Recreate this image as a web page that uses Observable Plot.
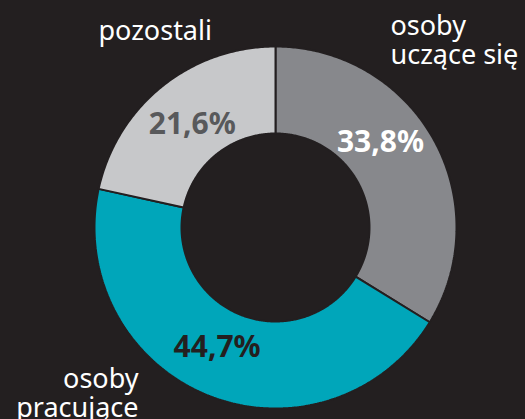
<!DOCTYPE html>
<html>
<head>
<meta charset="utf-8">
<script src="https://cdn.jsdelivr.net/npm/d3@7"></script>
<script src="https://cdn.jsdelivr.net/npm/@observablehq/plot@0.6"></script>
<style>
  html, body { margin: 0; padding: 0; background: #231f20; overflow: hidden; }
  #chart { width: 525px; height: 419px; }
</style>
</head>
<body>
<div id="chart"></div>
<script>
// ---- data ----
const categories = ["osoby uczące się", "osoby pracujące", "pozostali"];
const values = [33.8, 44.7, 21.6];
const valueLabels = ["33,8%", "44,7%", "21,6%"];

// ---- styles / layout ----
const sliceColors = ["#87888c", "#00a6ba", "#c7c8ca"];
const valueColors = ["#ffffff", "#231f20", "#58595b"];
const valueOffsets = [[-15, -18], [-7, -8], [3, 4]]; // px nudges
const W = 525, H = 419, CX = 275, CY = 227, R = 181, R_IN = 94;
const catLayout = [
  {lines: ["osoby", "uczące się"], x: 390, y: 14, anchor: "start"},
  {lines: ["osoby", "pracujące"], x: 138, y: 367, anchor: "end"},
  {lines: ["pozostali"], x: 98, y: 19, anchor: "start"}
];

const inner = R_IN / R;
const pie = d3.pie().sort(null).startAngle(0).endAngle(2 * Math.PI)(values);

// polygons for donut slices
const poly = [];
pie.forEach((p, i) => {
  const n = Math.max(8, Math.ceil((p.endAngle - p.startAngle) / 0.01));
  const pts = [];
  for (let k = 0; k <= n; k++) {
    const a = p.startAngle + (p.endAngle - p.startAngle) * k / n;
    pts.push([Math.sin(a), Math.cos(a)]);
  }
  for (let k = n; k >= 0; k--) {
    const a = p.startAngle + (p.endAngle - p.startAngle) * k / n;
    pts.push([inner * Math.sin(a), inner * Math.cos(a)]);
  }
  pts.push(pts[0]);
  pts.forEach(([x, y]) => poly.push({key: categories[i], x, y}));
});

const mid = (1 + inner) / 2;
const valueText = pie.map((p, i) => {
  const a = (p.startAngle + p.endAngle) / 2;
  return {
    label: valueLabels[i],
    x: mid * Math.sin(a) + valueOffsets[i][0] / R,
    y: mid * Math.cos(a) - valueOffsets[i][1] / R,
    color: valueColors[i]
  };
});

const catText = catLayout.map((c) => ({
  label: c.lines.join("\n"),
  x: (c.x - CX) / R,
  y: (CY - c.y) / R,
  anchor: c.anchor
}));

const catStyle = {
  fill: "#ffffff", lineAnchor: "top", lineHeight: 1.08,
  fontSize: 27, fontFamily: "Noto Sans", letterSpacing: "0.3px"
};

const chart = Plot.plot({
  width: W,
  height: H,
  margin: 0,
  style: {background: "#231f20", overflow: "hidden"},
  x: {domain: [-CX / R, (W - CX) / R], range: [0, W], axis: null},
  y: {domain: [-(H - CY) / R, CY / R], range: [H, 0], axis: null},
  color: {domain: categories, range: sliceColors},
  marks: [
    Plot.line(poly, {x: "x", y: "y", z: "key", fill: "key", stroke: "#231f20", strokeWidth: 2, strokeLinejoin: "miter"}),
    Plot.text(valueText, {
      x: "x", y: "y", text: "label", fill: (d) => d.color,
      fontSize: 30, fontWeight: 700, fontFamily: "Noto Sans"
    }),
    Plot.text(catText.filter(d => d.anchor === "start"), {
      x: "x", y: "y", text: "label", textAnchor: "start", ...catStyle
    }),
    Plot.text(catText.filter(d => d.anchor === "end"), {
      x: "x", y: "y", text: "label", textAnchor: "end", ...catStyle
    })
  ]
});
document.getElementById("chart").append(chart);
</script>
</body>
</html>
